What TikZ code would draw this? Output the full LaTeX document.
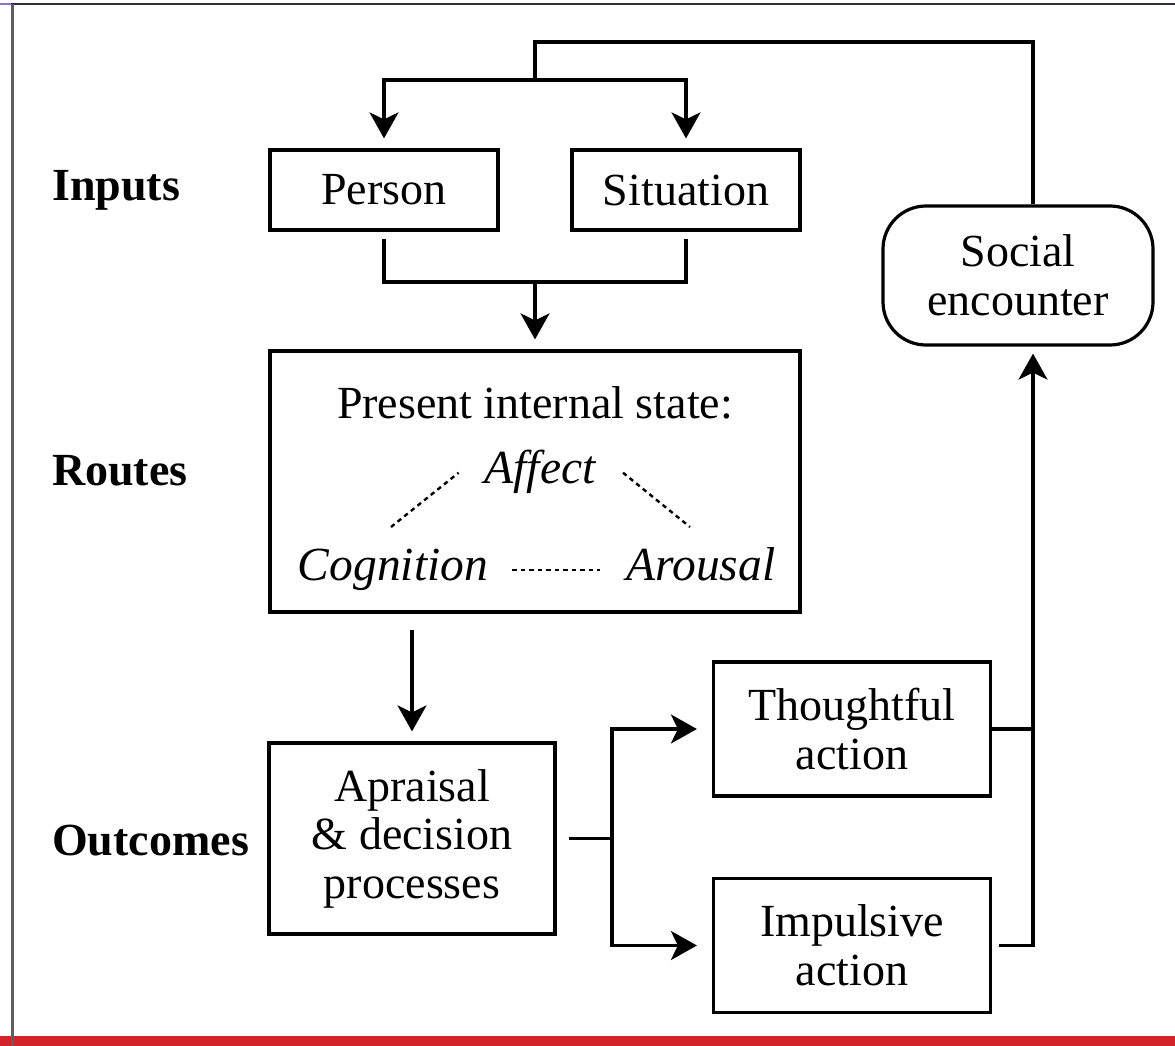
\documentclass[tikz,border=0pt]{standalone}
\usepackage{fontspec}
\setmainfont{Liberation Serif}
\usetikzlibrary{arrows.meta}
\definecolor{bandred}{HTML}{D2232B}
\definecolor{topline}{HTML}{33293F}
\definecolor{toppurple}{HTML}{9A6FC6}
\definecolor{sideline}{HTML}{5E5E5E}
\begin{document}
\begin{tikzpicture}[x=1pt,y=-1pt,
  line/.style={line width=3.2pt},
  arr/.style={line, -{Stealth[length=26pt,width=29pt,inset=7pt]}, shorten >=10pt},
  box/.style={draw, line width=3.2pt, inner sep=0pt, align=center, font=\fontsize{46}{48.5}\selectfont},
  lbl/.style={font=\fontsize{46}{48}\selectfont\bfseries, anchor=base west, inner sep=0pt},
  txt/.style={font=\fontsize{46}{48}\selectfont, anchor=base, inner sep=0pt},
  itx/.style={font=\fontsize{47.5}{48}\selectfont\itshape, anchor=base, inner sep=0pt},
  dots/.style={line width=2.4pt, dash pattern=on 4.5pt off 4pt}]
\useasboundingbox (0,0) rectangle (1175,1046);
% frame
\fill[bandred] (0,1036) rectangle (1175,1046);
\draw[line width=2.5pt, topline] (11,4) -- (1175,4);
\draw[line width=2.5pt, toppurple] (0,4) -- (11,4);
\draw[line width=3pt, sideline] (12,4) -- (12,1046);
% nodes
\node[box, minimum width=228pt, minimum height=80pt] (pers) at (384,190) {Person};
\node[box, minimum width=228pt, minimum height=80pt] (sit) at (686,190) {Situation};
\node[box, minimum width=530pt, minimum height=261pt] (state) at (535,481.5) {};
\node[txt] (title) at (535,418) {Present internal state:};
\node[itx] (aff) at (540,483) {Affect};
\node[itx] (cog) at (393,580) {Cognition};
\node[itx] (aro) at (701,580) {Arousal};
\node[box, minimum width=286pt, minimum height=191pt] (appr) at (412,838.5) {Apraisal\\\& decision\\processes};
\node[box, minimum width=277pt, minimum height=134pt] (thought) at (852,729) {Thoughtful\\action};
\node[box, minimum width=277pt, minimum height=134pt] (impul) at (852,945.5) {Impulsive\\action};
\node[box, rounded corners=43pt, minimum width=270pt, minimum height=139pt] (social) at (1018,275.5) {Social\\encounter};
\node[lbl] (inputs) at (52,200) {Inputs};
\node[lbl] (routes) at (52,485) {Routes};
\node[lbl] (outcomes) at (52,855) {Outcomes};
% coordinates
\coordinate (topL) at (535,42);
\coordinate (br) at (535,80);
\coordinate (m) at (535,282);
\coordinate (split) at (612,838.5);
\coordinate (j) at (1033,729);
\coordinate (d1) at (391,527);
\coordinate (d2) at (458.6,472.7);
\coordinate (d3) at (623,472.7);
\coordinate (d4) at (690,527);
\coordinate (d5) at (512,570);
\coordinate (d6) at (600,570);
% connectors
\draw[line] ([xshift=15pt]social.north) |- (topL) -- (br);
\draw[arr] (br) -| (pers.north);
\draw[arr] (br) -| (sit.north);
\draw[line, shorten <=7pt] (pers.south) |- (m);
\draw[line, shorten <=7pt] (sit.south) |- (m);
\draw[arr] (m) -- (state.north);
\draw[arr, shorten <=16pt] (state.south -| appr.north) -- (appr.north);
\draw[line, shorten <=12pt] (appr.east) -- (split);
\draw[arr, shorten >=15pt] (split) |- (thought.west);
\draw[arr, shorten >=15pt] (split) |- (impul.west);
\draw[line] (thought.east) -- (j);
\draw[arr, shorten <=7pt, shorten >=7pt] (impul.east) -| ([xshift=15pt]social.south);
% dotted relations
\draw[dots] (d1) -- (d2);
\draw[dots] (d3) -- (d4);
\draw[dots] (d5) -- (d6);
\end{tikzpicture}
\end{document}
